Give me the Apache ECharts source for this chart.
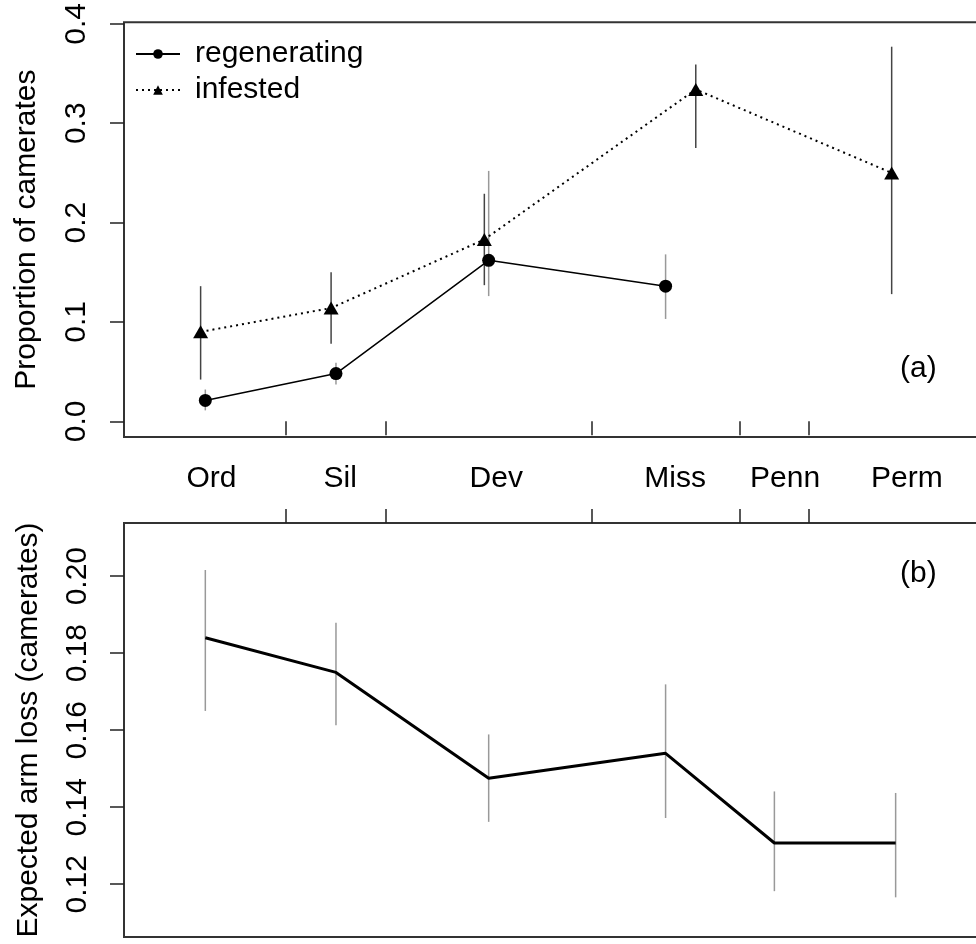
<!DOCTYPE html>
<html>
<head>
<meta charset="utf-8">
<script src="https://cdn.jsdelivr.net/npm/echarts@6/dist/echarts.min.js"></script>
<style>
  html, body { margin: 0; padding: 0; background: #fff; overflow: hidden; }
  #chart { width: 1000px; height: 944px; }
</style>
</head>
<body>
<div id="chart"></div>
<script>
// Geological periods (ages in Ma)
const periodNames = ['Ord', 'Sil', 'Dev', 'Miss', 'Penn', 'Perm'];
const periodBoundaries = [443.7, 416.0, 359.2, 318.1, 299.0];
const periodLabelAges = [464.3, 428.7, 385.5, 336.0, 305.6, 271.9];

// Panel (a): proportion of camerates, regenerating vs infested
const regenAge = [466.0, 429.85, 387.6, 338.65];
const regenValue = [0.021, 0.048, 0.162, 0.136];
const regenLow = [0.011, 0.037, 0.126, 0.103];
const regenHigh = [0.032, 0.059, 0.252, 0.168];

const infestAge = [467.3, 431.2, 388.8, 330.3, 276.1];
const infestValue = [0.090, 0.114, 0.183, 0.334, 0.250];
const infestLow = [0.042, 0.078, 0.137, 0.275, 0.128];
const infestHigh = [0.136, 0.150, 0.229, 0.359, 0.377];

// Panel (b): expected arm loss
const lossAge = [466.0, 429.85, 387.6, 338.65, 308.55, 275.0];
const lossValue = [0.184, 0.175, 0.1475, 0.154, 0.1307, 0.1307];
const lossLow = [0.165, 0.1613, 0.1362, 0.1372, 0.1182, 0.1166];
const lossHigh = [0.2016, 0.1879, 0.1589, 0.1719, 0.1441, 0.1437];

// Axis tick values
const ticksA = [0.0, 0.1, 0.2, 0.3, 0.4];
const ticksB = [0.12, 0.14, 0.16, 0.18, 0.20];

const FONT = '"Liberation Sans", Arial, Helvetica, sans-serif';
const AX = '#222';

function zip(xs, ys) { return xs.map((x, i) => [x, ys[i]]); }
function bars(xs, lo, hi) { return xs.map((x, i) => [x, lo[i], hi[i]]); }

function errorBarSeries(name, xi, yi, data, color) {
  return {
    name: name,
    type: 'custom',
    xAxisIndex: xi,
    yAxisIndex: yi,
    silent: true,
    z: 1,
    data: data,
    encode: { x: 0, y: [1, 2] },
    renderItem: function (params, api) {
      const p1 = api.coord([api.value(0), api.value(1)]);
      const p2 = api.coord([api.value(0), api.value(2)]);
      return {
        type: 'line',
        shape: { x1: p1[0], y1: p1[1], x2: p2[0], y2: p2[1] },
        style: { stroke: color, lineWidth: 1.5 }
      };
    }
  };
}

// The plot boxes run past the right edge of the visible page
const gridLeft = 124;
const gridWidth = 862;
const ageMin = 250;
const ageMax = 488.5;

const chart = echarts.init(document.getElementById('chart'), null, { renderer: 'canvas' });

const option = {
  animation: false,
  backgroundColor: '#fff',
  textStyle: { fontFamily: FONT },
  grid: [
    { left: gridLeft, top: 22, width: gridWidth, height: 415, show: true,
      borderColor: '#333', borderWidth: 2, backgroundColor: 'transparent' },
    { left: gridLeft, top: 523, width: gridWidth, height: 414, show: true,
      borderColor: '#333', borderWidth: 2, backgroundColor: 'transparent' }
  ],
  xAxis: [
    {
      gridIndex: 0, type: 'value', inverse: true, min: ageMin, max: ageMax,
      position: 'bottom',
      axisLine: { show: false },
      splitLine: { show: false },
      axisTick: { show: true, inside: false, length: 14, customValues: periodBoundaries,
        lineStyle: { color: AX, width: 1.5 } },
      axisLabel: { show: true, customValues: periodLabelAges, margin: 27,
        fontSize: 30, color: '#000', fontFamily: FONT,
        formatter: function (v) {
          const i = periodLabelAges.indexOf(v);
          return i >= 0 ? periodNames[i] : '';
        } }
    },
    {
      gridIndex: 1, type: 'value', inverse: true, min: ageMin, max: ageMax,
      position: 'top',
      axisLine: { show: false },
      splitLine: { show: false },
      axisTick: { show: true, inside: false, length: 14, customValues: periodBoundaries,
        lineStyle: { color: AX, width: 1.5 } },
      axisLabel: { show: false }
    }
  ],
  yAxis: [
    {
      gridIndex: 0, type: 'value', min: -0.0158, max: 0.4017,
      axisLine: { show: false },
      splitLine: { show: false },
      axisTick: { show: true, length: 14, customValues: ticksA,
        lineStyle: { color: AX, width: 1.5 } },
      axisLabel: { customValues: ticksA, rotate: 90, margin: 32, fontSize: 30,
        color: '#000', fontFamily: FONT,
        formatter: function (v) { return v.toFixed(1); } },
      name: 'Proportion of camerates',
      nameLocation: 'middle', nameRotate: 90, nameGap: 82,
      nameTextStyle: { fontSize: 30, color: '#000', fontFamily: FONT }
    },
    {
      gridIndex: 1, type: 'value', min: 0.1063, max: 0.2138,
      axisLine: { show: false },
      splitLine: { show: false },
      axisTick: { show: true, length: 14, customValues: ticksB,
        lineStyle: { color: AX, width: 1.5 } },
      axisLabel: { customValues: ticksB, rotate: 90, margin: 31, fontSize: 30,
        color: '#000', fontFamily: FONT,
        formatter: function (v) { return v.toFixed(2); } },
      name: 'Expected arm loss (camerates)',
      nameLocation: 'middle', nameRotate: 90, nameGap: 80,
      nameTextStyle: { fontSize: 30, color: '#000', fontFamily: FONT }
    }
  ],
  legend: {
    orient: 'vertical',
    left: 130, top: 34,
    itemWidth: 44, itemHeight: 12, itemGap: 6,
    textStyle: { fontSize: 30, color: '#000', fontFamily: FONT, padding: [0, 0, 0, 10] },
    data: ['regenerating', 'infested']
  },
  series: [
    errorBarSeries('regenErr', 0, 0, bars(regenAge, regenLow, regenHigh), '#999'),
    errorBarSeries('infestErr', 0, 0, bars(infestAge, infestLow, infestHigh), '#444'),
    {
      name: 'regenerating', type: 'line', xAxisIndex: 0, yAxisIndex: 0, z: 3,
      data: zip(regenAge, regenValue),
      symbol: 'circle', symbolSize: 13,
      itemStyle: { color: '#000' },
      lineStyle: { color: '#000', width: 1.5 }
    },
    {
      name: 'infested', type: 'line', xAxisIndex: 0, yAxisIndex: 0, z: 3,
      data: zip(infestAge, infestValue),
      symbol: 'triangle', symbolSize: [15, 13],
      itemStyle: { color: '#000' },
      lineStyle: { color: '#000', width: 2, type: [2, 4] }
    },
    errorBarSeries('lossErr', 1, 1, bars(lossAge, lossLow, lossHigh), '#999'),
    {
      name: 'arm loss', type: 'line', xAxisIndex: 1, yAxisIndex: 1, z: 3,
      data: zip(lossAge, lossValue),
      symbol: 'none',
      lineStyle: { color: '#000', width: 3 }
    }
  ],
  graphic: [
    { type: 'text', left: 900, top: 354, style: { text: '(a)', font: '30px ' + FONT, fill: '#000' } },
    { type: 'text', left: 900, top: 559, style: { text: '(b)', font: '30px ' + FONT, fill: '#000' } }
  ]
};

chart.setOption(option);
</script>
</body>
</html>
